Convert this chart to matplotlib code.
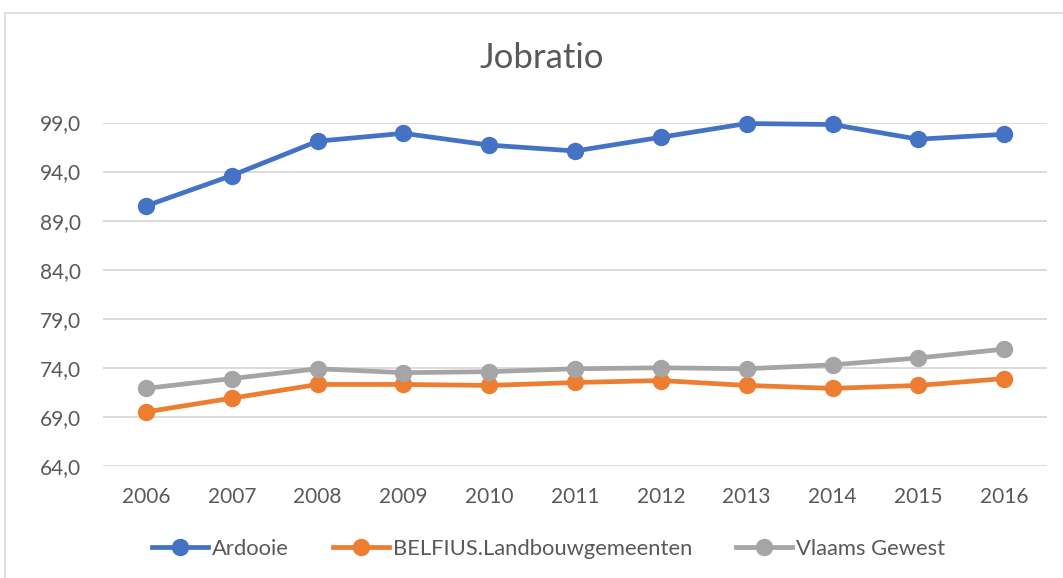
import matplotlib
matplotlib.use('Agg')
import matplotlib.pyplot as plt
from matplotlib.patches import Rectangle
from matplotlib.ticker import FuncFormatter

plt.rcParams['font.family'] = ['Lato', 'DejaVu Sans']

years = ['2006', '2007', '2008', '2009', '2010', '2011', '2012', '2013', '2014', '2015', '2016']
ardooie = [90.5, 93.6, 97.1, 97.9, 96.7, 96.1, 97.5, 98.9, 98.8, 97.3, 97.8]
belfius = [69.5, 70.9, 72.3, 72.3, 72.2, 72.5, 72.7, 72.2, 71.9, 72.2, 72.9]
vlaams = [71.9, 72.9, 73.9, 73.5, 73.6, 73.9, 74.0, 73.9, 74.3, 75.0, 75.9]

series = [
    ('Ardooie', ardooie, '#4472C4'),
    ('BELFIUS.Landbouwgemeenten', belfius, '#ED7D31'),
    ('Vlaams Gewest', vlaams, '#A5A5A5'),
]

text_col = '#595959'


def main():
    fig = plt.figure(figsize=(10.63, 5.78), dpi=100)
    ax = fig.add_axes([0.097, 0.194, 0.888, 0.594])

    x = range(len(years))
    for name, vals, col in series:
        ax.plot(x, vals, color=col, lw=3.4, marker='o', ms=11.5,
                mec=col, mfc=col, label=name, clip_on=False)

    ax.set_xlim(-0.5, len(years) - 0.5)
    ax.set_ylim(64, 99)
    ax.set_yticks([64, 69, 74, 79, 84, 89, 94, 99])
    ax.yaxis.set_major_formatter(FuncFormatter(lambda v, p: f'{v:.1f}'.replace('.', ',')))
    ax.set_xticks(list(x))
    ax.set_xticklabels(years)
    ax.grid(axis='y', color='#d9d9d9', lw=1.3)
    ax.set_axisbelow(True)
    for s in ax.spines.values():
        s.set_visible(False)
    ax.tick_params(length=0, labelsize=15, colors=text_col)
    ax.tick_params(axis='x', pad=15)
    ax.tick_params(axis='y', pad=16)

    fig.text(0.510, 0.90, 'Jobratio', ha='center', va='center',
             fontsize=25, color=text_col)

    fig.legend(loc='center', bbox_to_anchor=(0.516, 0.05), ncol=3,
               frameon=False, fontsize=15.8, labelcolor=text_col,
               handlelength=2.55, handletextpad=0.18, columnspacing=2.0)

    fig.patches.append(Rectangle((5 / 1063, -0.01), 1.1, 1 - 13 / 578 + 0.01,
                                 transform=fig.transFigure, fill=False,
                                 ec='#d9d9d9', lw=1.2))

    fig.savefig('out.png', dpi=100)


if __name__ == '__main__':
    main()
